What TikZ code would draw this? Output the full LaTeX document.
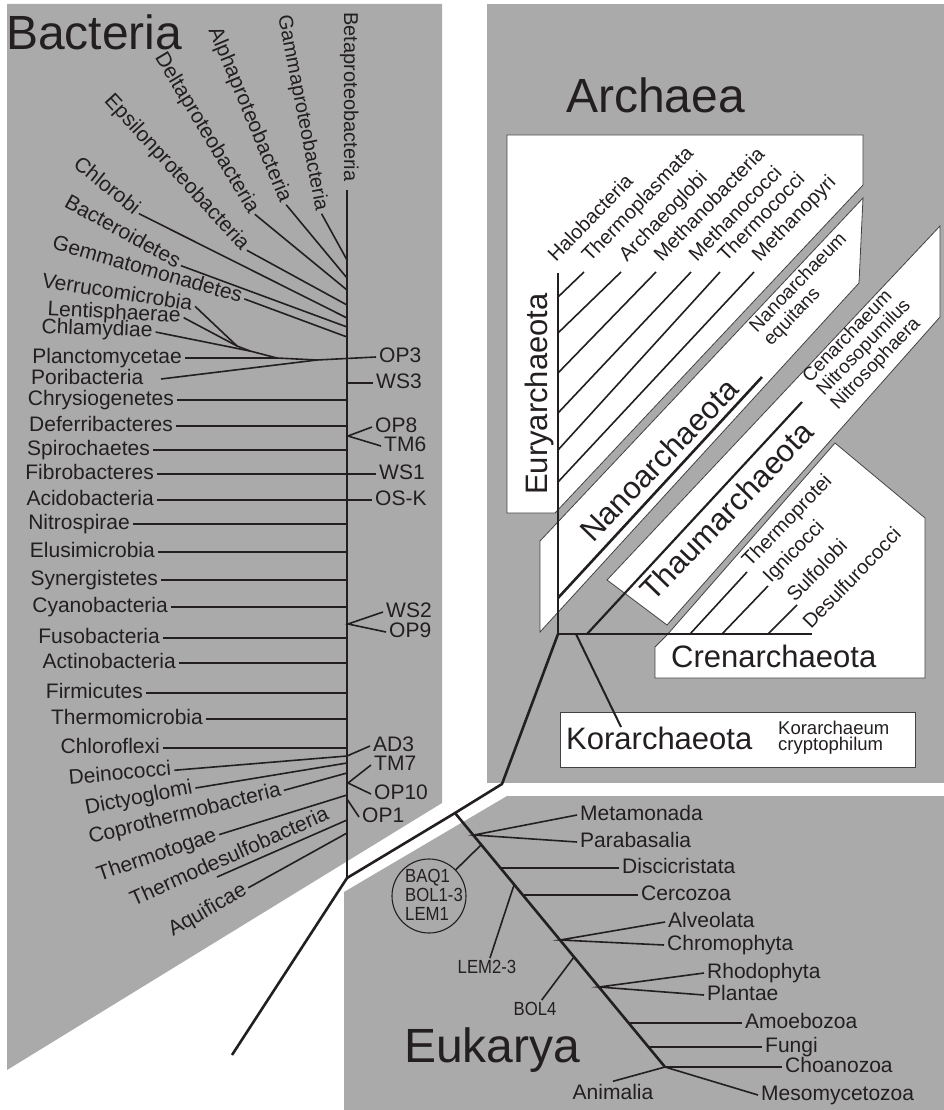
\documentclass[tikz,border=0pt]{standalone}
\usepackage{fontspec}
\setmainfont{Liberation Sans}
\newfontfamily\narrowsf[FakeStretch=0.88]{Liberation Sans}
\usepackage{tikz}
\definecolor{panelgray}{RGB}{170, 170, 170}
\definecolor{ink}{RGB}{35, 31, 32}

\begin{document}
\begin{tikzpicture}[
    x=1pt, y=-1pt,
    panel/.style={fill=panelgray},
    cladebox/.style={fill=white, draw=ink!85, line width=0.8pt},
    trunk/.style={draw=ink, line width=2.6pt, line join=round},
    twig/.style={draw=ink, line width=1.6pt},
    domainlab/.style={font=\fontsize{48}{48}\selectfont, text=ink, inner sep=0pt, anchor=base west},
    phylumlab/.style={font=\fontsize{31}{31}\selectfont, text=ink, inner sep=0pt, anchor=base west},
    taxon/.style={font=\fontsize{21}{21}\selectfont, text=ink, inner sep=3pt, text height=14.5pt, text depth=4.5pt},
    classlab/.style={font=\fontsize{20}{20}\selectfont, text=ink, inner sep=0pt, anchor=base west, rotate=46},
    specieslab/.style={font=\fontsize{19}{19.5}\selectfont, text=ink, inner sep=2pt, align=left},
    envlab/.style={font=\narrowsf\fontsize{19}{19}\selectfont, text=ink, inner sep=2pt}
]
    \useasboundingbox (0,0) rectangle (944,1110);
    \fill[white] (0,0) rectangle (944,1110);

    % Panels
    \fill[panel] (7,4) -- (442,4) -- (442,803) -- (7,1070) -- cycle;
    \fill[panel] (487,4) rectangle (944,783);
    \fill[panel] (344,1110) -- (344,892) -- (507,796) -- (944,796) -- (944,1110) -- cycle;

    % Archaea: clade boxes
    \draw[cladebox] (507,135) -- (863,135) -- (863,185) -- (555,513) -- (507,513) -- cycle;
    \draw[cladebox] (540,541) -- (863,198) -- (859,283) -- (540,632) -- cycle;
    \draw[cladebox] (607,580) -- (940,226) -- (940,317) -- (667,625) -- cycle;
    \draw[cladebox] (655,678) -- (655,647) -- (667,635) -- (835,443) -- (925,518) -- (925,678) -- cycle;
    \draw[cladebox] (560,712) rectangle (915,767);

    % Domain titles
    \node[domainlab] (bacteria) at (6,50) {Bacteria};
    \node[domainlab] (archaea) at (566,113) {Archaea};
    \node[domainlab] (eukarya) at (404,1062) {Eukarya};

    % Main tree
    \coordinate (btop) at (347,190);
    \coordinate (broot) at (347,878);
    \coordinate (tailend) at (232,1055);
    \coordinate (ejoin) at (455,813);
    \coordinate (abend) at (502,784);
    \coordinate (aroot) at (558,634);
    \coordinate (ebot) at (665,1067);
    \draw[trunk] (tailend) -- (broot) -- (ejoin) -- (abend) -- (aroot);
    \draw[trunk] (btop) -- (broot);
    \draw[trunk] (ejoin) -- (ebot);

    % Bacteria: stem junctions
    \coordinate (s260) at (347,260);
    \coordinate (s278) at (347,278);
    \coordinate (s290) at (347,290);
    \coordinate (s305) at (347,305);
    \coordinate (s318) at (347,318);
    \coordinate (s327) at (347,327);
    \coordinate (s337) at (347,337);
    \coordinate (s383) at (347,383);
    \coordinate (s436) at (348,436);
    \coordinate (s624) at (348,624);
    \coordinate (s756) at (347,756);
    \coordinate (s763) at (347,763);
    \coordinate (s773) at (347,773);
    \coordinate (s783) at (348,783);
    \coordinate (s795) at (347,795);
    \coordinate (s799) at (347,799);
    \coordinate (s820) at (347,820);
    \coordinate (s833) at (347,833);
    \coordinate (j1) at (237,346);
    \coordinate (j2) at (250,351);
    \coordinate (j3) at (277,358);
    \coordinate (j4) at (317,360);
    \coordinate (poriend) at (161,379);
    \coordinate (tdsend) at (217,877);

    % Bacteria: upper fan
    \node[taxon, font=\fontsize{20}{20}\selectfont, rotate=-90] (beta) at (349,97) {Betaproteobacteria};
    \node[taxon, font=\fontsize{20}{20}\selectfont, rotate=-79] (gamma) at (302,113) {Gammaproteobacteria};
    \node[taxon, rotate=-67.5] (alpha) at (249,115) {Alphaproteobacteria};
    \node[taxon, rotate=-59] (delta) at (206,133) {Deltaproteobacteria};
    \node[taxon, rotate=-47.5] (epsilon) at (176,173) {Epsilonproteobacteria};
    \node[taxon, rotate=-39] (chlorobi) at (106,187) {Chlorobi};
    \node[taxon, rotate=-29] (bacteroid) at (122,233) {Bacteroidetes};
    \node[taxon, rotate=-16] (gemmato) at (147,271) {Gemmatomonadetes};
    \node[taxon, rotate=-9] (verruco) at (117,294) {Verrucomicrobia};
    \node[taxon, rotate=-3] (lentis) at (114,314) {Lentisphaerae};
    \node[taxon, rotate=-2] (chlamyd) at (97,330) {Chlamydiae};
    \node[taxon, anchor=east] (plancto) at (185,358) {Planctomycetae};
    \node[taxon, anchor=west] (pori) at (28,379) {Poribacteria};

    % Bacteria: left side
    \node[taxon, anchor=east] (chrys) at (177,400) {Chrysiogenetes};
    \node[taxon, anchor=east] (deferri) at (176,426) {Deferribacteres};
    \node[taxon, anchor=east] (spiro) at (153,450) {Spirochaetes};
    \node[taxon, anchor=east] (fibro) at (157,474) {Fibrobacteres};
    \node[taxon, anchor=east] (acido) at (157,500) {Acidobacteria};
    \node[taxon, anchor=east] (nitro) at (133,524) {Nitrospirae};
    \node[taxon, anchor=east] (elusi) at (158,552) {Elusimicrobia};
    \node[taxon, anchor=east] (synerg) at (161,580) {Synergistetes};
    \node[taxon, anchor=east] (cyano) at (171,607) {Cyanobacteria};
    \node[taxon, anchor=east] (fuso) at (163,638) {Fusobacteria};
    \node[taxon, anchor=east] (actino) at (179,663) {Actinobacteria};
    \node[taxon, anchor=east] (firmi) at (146,693) {Firmicutes};
    \node[taxon, anchor=east] (thermomi) at (206,719) {Thermomicrobia};
    \node[taxon, anchor=east] (chloro) at (163,748) {Chloroflexi};

    % Bacteria: lower fan
    \node[taxon, rotate=5] (deino) at (120,775) {Deinococci};
    \node[taxon, rotate=11] (dictyo) at (139,799) {Dictyoglomi};
    \node[taxon, rotate=14] (copro) at (185,815) {Coprothermobacteria};
    \node[taxon, rotate=19] (thermotog) at (157,856) {Thermotogae};
    \node[taxon, rotate=24] (tdesulfo) at (230,858) {Thermodesulfobacteria};
    \node[taxon, rotate=30] (aquif) at (208,911) {Aquificae};

    % Bacteria: candidate divisions
    \node[taxon, anchor=west] (op3) at (376,357) {OP3};
    \node[taxon, anchor=west] (ws3) at (373,383) {WS3};
    \node[taxon, anchor=west] (op8) at (372,427) {OP8};
    \node[taxon, anchor=west] (tm6) at (381,446) {TM6};
    \node[taxon, anchor=west] (ws1) at (376,474) {WS1};
    \node[taxon, anchor=west] (osk) at (372,500) {OS-K};
    \node[taxon, anchor=west] (ws2) at (383,612) {WS2};
    \node[taxon, anchor=west] (op9) at (386,632) {OP9};
    \node[taxon, anchor=west] (ad3) at (370,746) {AD3};
    \node[taxon, anchor=west] (tm7) at (371,765) {TM7};
    \node[taxon, anchor=west] (op10) at (371,794) {OP10};
    \node[taxon, anchor=west] (op1) at (359,817) {OP1};

    % Bacteria: branches
    \draw[twig] (gamma.east) -- (s260);
    \draw[twig] (alpha.east) -- (s278);
    \draw[twig] (delta.east) -- (s290);
    \draw[twig] (epsilon.east) -- (s305);
    \draw[twig] (chlorobi.east) -- (s318);
    \draw[twig] (bacteroid.east) -- (s327);
    \draw[twig] (gemmato.east) -- (s337);
    \draw[twig] (verruco.east) -- (j1);
    \draw[twig] (lentis.east) -- (j1) -- (j2);
    \draw[twig] (chlamyd.east) -- (j2) -- (j3);
    \draw[twig] (plancto.east) -- (j3) -- (j4);
    \draw[twig] (poriend) -- (j4) -- (op3.west);
    \draw[twig] (s383) -- (ws3.west);
    \draw[twig] (chrys.east) -- (chrys.east -| btop);
    \draw[twig] (deferri.east) -- (deferri.east -| btop);
    \draw[twig] (op8.west) -- (s436) -- (tm6.west);
    \draw[twig] (spiro.east) -- (spiro.east -| btop);
    \draw[twig] (fibro.east) -- (ws1.west);
    \draw[twig] (acido.east) -- (osk.west);
    \draw[twig] (nitro.east) -- (nitro.east -| btop);
    \draw[twig] (elusi.east) -- (elusi.east -| btop);
    \draw[twig] (synerg.east) -- (synerg.east -| btop);
    \draw[twig] (cyano.east) -- (cyano.east -| btop);
    \draw[twig] (ws2.west) -- (s624) -- (op9.west);
    \draw[twig] (fuso.east) -- (fuso.east -| btop);
    \draw[twig] (actino.east) -- (actino.east -| btop);
    \draw[twig] (firmi.east) -- (firmi.east -| btop);
    \draw[twig] (thermomi.east) -- (thermomi.east -| btop);
    \draw[twig] (chloro.east) -- (chloro.east -| btop);
    \draw[twig] (deino.east) -- (s756) -- (ad3.west);
    \draw[twig] (dictyo.east) -- (s763);
    \draw[twig] (copro.east) -- (s773);
    \draw[twig] (tm7.west) -- (s783) -- (op10.west);
    \draw[twig] (thermotog.east) -- (s795);
    \draw[twig] (s799) -- (op1.west);
    \draw[twig] (tdsend) -- (s820);
    \draw[twig] (aquif.east) -- (s833);

    % Archaea: branch points
    \coordinate (eurytop) at (558,273);
    \coordinate (crenend) at (812,634);
    \coordinate (nanobase) at (558,598);
    \coordinate (nanotip) at (762,377);
    \coordinate (thaumbase) at (587,634);
    \coordinate (thaumtip) at (802,402);
    \coordinate (korbase) at (576,634);
    \coordinate (kortip) at (621,727);
    \coordinate (eury1) at (558,297); \coordinate (eury1t) at (584,272);
    \coordinate (eury2) at (558,333); \coordinate (eury2t) at (621,272);
    \coordinate (eury3) at (558,373); \coordinate (eury3t) at (656,272);
    \coordinate (eury4) at (558,413); \coordinate (eury4t) at (691,272);
    \coordinate (eury5) at (558,450); \coordinate (eury5t) at (720,272);
    \coordinate (eury6) at (558,482); \coordinate (eury6t) at (754,272);
    \coordinate (cren1) at (690,634); \coordinate (cren1t) at (747,572);
    \coordinate (cren2) at (722,634); \coordinate (cren2t) at (768,586);
    \coordinate (cren3) at (768,634); \coordinate (cren3t) at (797,605);

    % Archaea: lines
    \draw[trunk] (aroot) -- (eurytop);
    \draw[trunk] (aroot) -- (crenend);
    \draw[trunk] (nanobase) -- (nanotip);
    \draw[trunk, line width=2.2pt] (thaumbase) -- (thaumtip);
    \draw[trunk, line width=2pt] (korbase) -- (kortip);
    \draw[twig] (eury1) -- (eury1t);
    \draw[twig] (eury2) -- (eury2t);
    \draw[twig] (eury3) -- (eury3t);
    \draw[twig] (eury4) -- (eury4t);
    \draw[twig] (eury5) -- (eury5t);
    \draw[twig] (eury6) -- (eury6t);
    \draw[twig] (cren1) -- (cren1t);
    \draw[twig] (cren2) -- (cren2t);
    \draw[twig] (cren3) -- (cren3t);

    % Archaea: labels
    \node[phylumlab, rotate=90, anchor=base] (euryarch) at (547,394) {Euryarchaeota};
    \node[phylumlab, rotate=46] (nanoarch) at (593,544) {Nanoarchaeota};
    \node[phylumlab, rotate=46] (thaumarch) at (653,603) {Thaumarchaeota};
    \node[phylumlab] (crenarch) at (671,667) {Crenarchaeota};
    \node[phylumlab] (korarch) at (566,749) {Korarchaeota};
    \node[classlab] (halobac) at (556,263) {Halobacteria};
    \node[classlab] (thermopl) at (590,263) {Thermoplasmata};
    \node[classlab] (archaeog) at (627,263) {Archaeoglobi};
    \node[classlab] (methbac) at (662,263) {Methanobacteria};
    \node[classlab] (methcoc) at (697,263) {Methanococci};
    \node[classlab] (thermoc) at (726,263) {Thermococci};
    \node[classlab] (methpyr) at (760,263) {Methanopyri};
    \node[classlab] (thermopr) at (750,568) {Thermoprotei};
    \node[classlab] (ignic) at (771,584) {Ignicocci};
    \node[classlab] (sulfol) at (795,603) {Sulfolobi};
    \node[classlab] (desulf) at (811,630) {Desulfurococci};
    \node[specieslab, rotate=46, anchor=west] (nanospec) at (759,338) {Nanoarchaeum\\equitans};
    \node[specieslab, rotate=46, anchor=west] (thaumspec) at (819,395) {Cenarchaeum\\Nitrosopumilus\\Nitrosophaera};
    \node[specieslab, font=\fontsize{18.5}{16}\selectfont, anchor=west] (korspec) at (776,738) {Korarchaeum\\cryptophilum};

    % Eukarya: branch points
    \coordinate (e835) at (474,835);
    \coordinate (e845) at (481,845);
    \coordinate (e868) at (501,868);
    \coordinate (e885) at (514,885);
    \coordinate (e895) at (523,895);
    \coordinate (e940) at (560,940);
    \coordinate (e957) at (574,957);
    \coordinate (e987) at (599,987);
    \coordinate (e1023) at (629,1023);
    \coordinate (e1047) at (648,1047);

    % Eukarya: labels
    \node[taxon, anchor=west] (metamon) at (577,815) {Metamonada};
    \node[taxon, anchor=west] (parabas) at (577,842) {Parabasalia};
    \node[taxon, anchor=west] (discicr) at (619,868) {Discicristata};
    \node[taxon, anchor=west] (cercoz) at (638,895) {Cercozoa};
    \node[taxon, anchor=west] (alveol) at (665,922) {Alveolata};
    \node[taxon, anchor=west] (chromo) at (664,945) {Chromophyta};
    \node[taxon, anchor=west] (rhodo) at (704,973) {Rhodophyta};
    \node[taxon, anchor=west] (plantae) at (704,995) {Plantae};
    \node[taxon, anchor=west] (amoebo) at (742,1023) {Amoebozoa};
    \node[taxon, anchor=west] (fungi) at (762,1047) {Fungi};
    \node[taxon, anchor=west] (choano) at (782,1067) {Choanozoa};
    \node[taxon, anchor=west] (mesomy) at (758,1095) {Mesomycetozoa};
    \node[taxon] (animalia) at (613,1094) {Animalia};
    \node[circle, draw=ink, line width=1.1pt, minimum size=74pt, inner sep=0pt] (envring) at (429,896) {};
    \node[envlab, align=left, anchor=west] (envtext) at (403,895) {BAQ1\\BOL1-3\\LEM1};
    \node[envlab] (lem23) at (487,967) {LEM2-3};
    \node[envlab] (bol4) at (535,1009) {BOL4};

    % Eukarya: branches
    \draw[twig] (metamon.west) -- (e835) -- (parabas.west);
    \draw[twig] (e845) -- (envring);
    \draw[twig] (e868) -- (discicr.west);
    \draw[twig] (e885) -- (lem23);
    \draw[twig] (e895) -- (cercoz.west);
    \draw[twig] (alveol.west) -- (e940) -- (chromo.west);
    \draw[twig] (e957) -- (bol4);
    \draw[twig] (rhodo.west) -- (e987) -- (plantae.west);
    \draw[twig] (e1023) -- (amoebo.west);
    \draw[twig] (e1047) -- (fungi.west);
    \draw[twig] (ebot) -- (choano.west);
    \draw[twig] (ebot) -- (mesomy.west);
    \draw[twig] (ebot) -- (animalia.north);
\end{tikzpicture}
\end{document}
